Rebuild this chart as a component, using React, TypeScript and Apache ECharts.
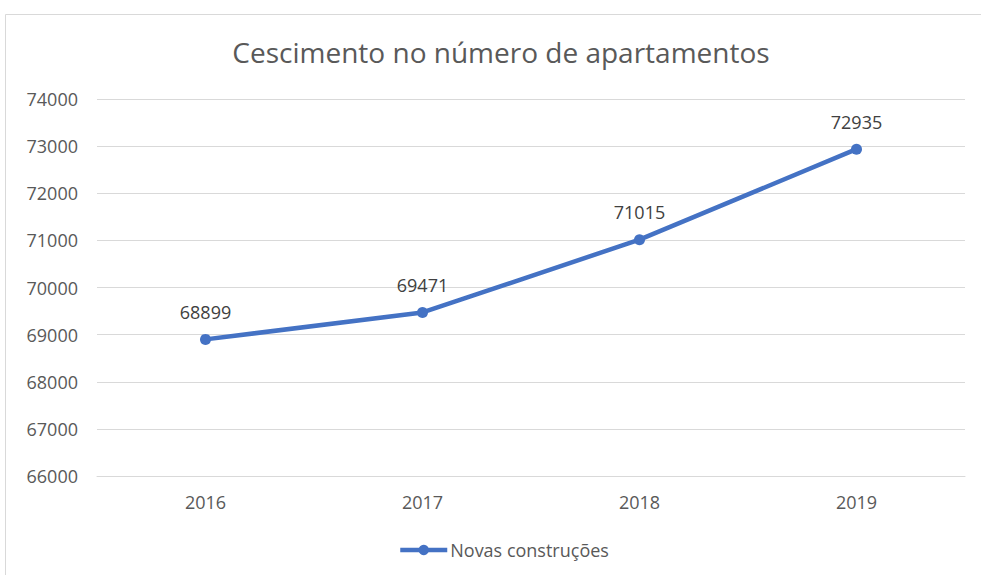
import React, { useEffect, useRef } from "react";
import * as echarts from "echarts";

const titleText = "Cescimento no número de apartamentos";
const seriesName = "Novas construções";
const categories = ["2016", "2017", "2018", "2019"];
const values = [68899, 69471, 71015, 72935];

const FONT = "'Open Sans', 'Noto Sans', sans-serif";

export default function App() {
  const ref = useRef<HTMLDivElement>(null);
  useEffect(() => {
    if (!ref.current) return;
    const chart = echarts.init(ref.current, null, { renderer: "svg" });
    chart.setOption({
      animation: false,
      backgroundColor: "#ffffff",
      title: {
        text: titleText,
        left: 496,
        textAlign: "center",
        top: 33,
        textStyle: { fontFamily: FONT, fontSize: 28, fontWeight: "normal", color: "#595959" },
      },
      graphic: [
        {
          type: "rect",
          shape: { x: 5.5, y: 14.5, width: 1100, height: 700 },
          style: { fill: "none", stroke: "#d9d9d9", lineWidth: 1 },
          z: -1,
        },
      ],
      legend: {
        top: 536,
        left: 393,
        data: [seriesName],
        itemWidth: 47,
        itemHeight: 13,
        itemGap: 4,
        lineStyle: { width: 4.5, color: "#4472C4" },
        itemStyle: { color: "#4472C4" },
        textStyle: { fontFamily: FONT, fontSize: 18, color: "#595959", padding: [0, 0, 0, -2] },
      },
      grid: { left: 97, right: 16, top: 99, bottom: 99, containLabel: false },
      xAxis: {
        type: "category",
        data: categories,
        boundaryGap: true,
        axisLine: { show: true, lineStyle: { color: "#d9d9d9", width: 1 } },
        axisTick: { show: false },
        axisLabel: { fontFamily: FONT, fontSize: 18, color: "#595959", margin: 17 },
      },
      yAxis: {
        type: "value",
        min: 66000,
        max: 74000,
        interval: 1000,
        axisLine: { show: false },
        axisTick: { show: false },
        axisLabel: {
          fontFamily: FONT,
          fontSize: 18,
          color: "#595959",
          margin: 19,
          formatter: (v: number) => String(v),
        },
        splitLine: { lineStyle: { color: "#d9d9d9", width: 1 } },
      },
      series: [
        {
          name: seriesName,
          type: "line",
          data: values,
          symbol: "circle",
          symbolSize: 11,
          lineStyle: { color: "#4472C4", width: 4.5 },
          itemStyle: { color: "#4472C4" },
          label: {
            show: true,
            position: "top",
            distance: 13,
            fontFamily: FONT,
            fontSize: 18,
            color: "#404040",
          },
        },
      ],
    });
    return () => chart.dispose();
  }, []);
  return (
    <div
      ref={ref}
      style={{ position: "fixed", left: 0, top: 0, width: 981, height: 575 }}
    />
  );
}
